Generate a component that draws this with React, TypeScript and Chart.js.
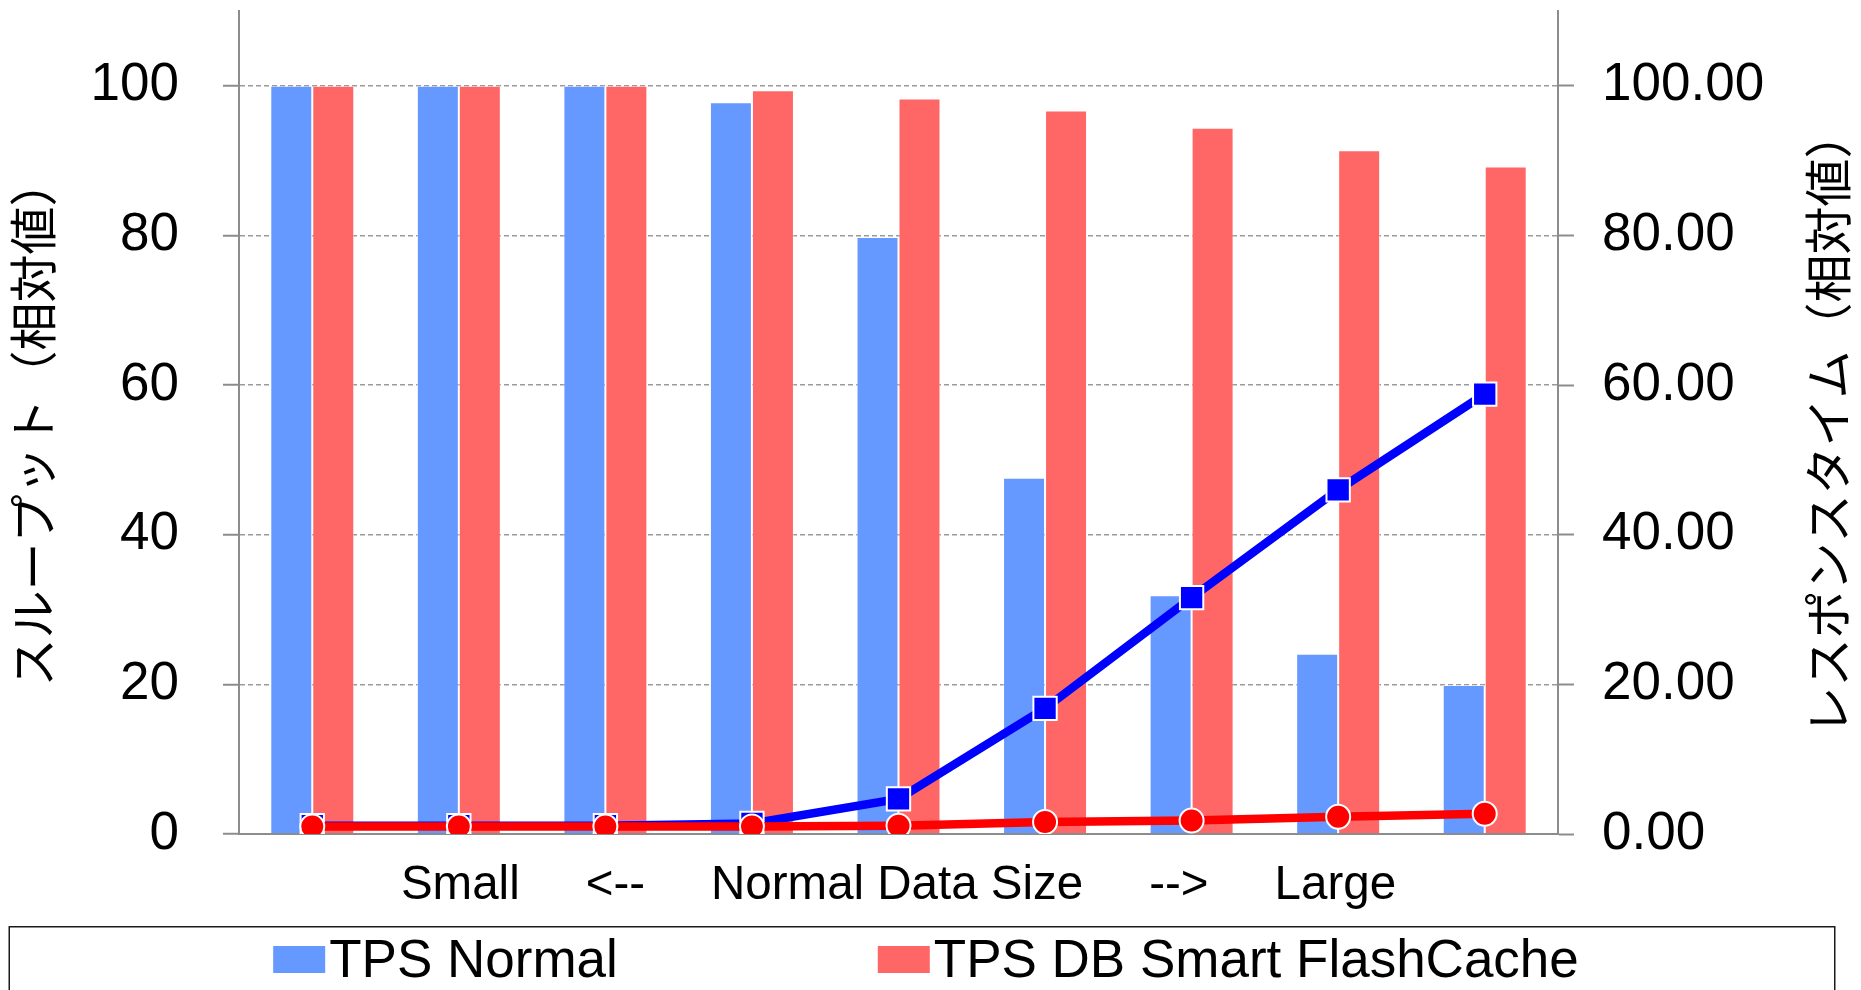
import React, { useEffect, useRef } from 'react';
import { Chart, registerables } from 'chart.js';

Chart.register(...registerables);

// ---- data ----
const categories = ['1', '2', '3', '4', '5', '6', '7', '8', '9'];
const tpsNormal = [100, 100, 100, 97.8, 79.8, 47.6, 31.9, 24.1, 19.9];
const tpsFlashCache = [100, 100, 100, 99.4, 98.3, 96.7, 94.4, 91.4, 89.2];
const respNormal = [1.1, 1.1, 1.1, 1.4, 4.7, 16.8, 31.6, 46.0, 58.8];
const respFlashCache = [1.0, 1.0, 1.0, 1.0, 1.1, 1.6, 1.8, 2.3, 2.7];
const yTicks = [0, 20, 40, 60, 80, 100];
const seriesLabels = ['TPS Normal', 'TPS DB Smart FlashCache', 'Response Normal', 'Response DB Smart FlashCache'];
const xAxisTitle = 'Small     <--     Normal Data Size     -->     Large';
const leftAxisTitle = 'スループット（相対値）';
const rightAxisTitle = 'レスポンスタイム（相対値）';

const FONT = '"Liberation Sans", "Noto Sans CJK JP", Arial, sans-serif';
const GRID = '#9a9a9a';
const AXIS = '#8c8c8c';
const TITLE_SIZE = 48;

const rightTitlePlugin = {
  id: 'rightTitle',
  afterDraw(chart: any) {
    const { ctx, chartArea } = chart;
    ctx.save();
    ctx.translate(chart.width - 28, (chartArea.top + chartArea.bottom) / 2);
    ctx.rotate(-Math.PI / 2);
    ctx.font = `${TITLE_SIZE}px ${FONT}`;
    ctx.fillStyle = '#000';
    ctx.textAlign = 'center';
    ctx.textBaseline = 'middle';
    ctx.fillText(rightAxisTitle, 0, 0);
    ctx.restore();
  },
};

const boxLegendPlugin = {
  id: 'boxLegend',
  afterDraw(chart: any) {
    const { ctx } = chart;
    const items = chart.data.datasets.filter((d: any) => d.type === 'bar');
    ctx.save();
    ctx.lineWidth = 1.5;
    ctx.strokeStyle = '#1a1a1a';
    ctx.strokeRect(9.25, 926.75, 1825.5, 120);
    ctx.font = `53px ${FONT}`;
    const boxW = 52;
    const boxH = 27;
    const gapBoxText = 4;
    const gapItems = 260;
    const widths = items.map((d: any) => boxW + gapBoxText + ctx.measureText(d.label).width);
    const total = widths.reduce((a: number, b: number) => a + b, 0) + gapItems * (items.length - 1);
    let x = 926 - total / 2;
    items.forEach((d: any, i: number) => {
      ctx.fillStyle = d.backgroundColor;
      ctx.fillRect(x, 946, boxW, boxH);
      ctx.fillStyle = '#000';
      ctx.textAlign = 'left';
      ctx.textBaseline = 'alphabetic';
      ctx.fillText(d.label, x + boxW + gapBoxText, 976.5);
      x += widths[i] + gapItems;
    });
    ctx.restore();
  },
};

export default function App() {
  const canvasRef = useRef<HTMLCanvasElement | null>(null);

  useEffect(() => {
    document.body.style.margin = '0';
    document.body.style.overflow = 'hidden';
    const canvas = canvasRef.current;
    if (!canvas) return;

    const fixY = (w: number) => (scale: any) => {
      scale.width = w;
      scale.paddingTop = 0;
      scale.paddingBottom = 0;
      scale.paddingLeft = 0;
      scale.paddingRight = 0;
    };
    const setTicks = (scale: any) => {
      scale.ticks = yTicks.map((v) => ({ value: v }));
    };

    const chart = new Chart(canvas, {
      type: 'bar',
      data: {
        labels: categories,
        datasets: [
          {
            type: 'line',
            label: seriesLabels[3],
            data: respFlashCache,
            yAxisID: 'y1',
            order: 0,
            borderColor: '#ff0000',
            backgroundColor: '#ff0000',
            borderWidth: 8.5,
            tension: 0,
            pointStyle: 'circle',
            pointRadius: 12,
            pointBackgroundColor: '#ff0000',
            pointBorderColor: '#ffffff',
            pointBorderWidth: 2,
          },
          {
            type: 'line',
            label: seriesLabels[2],
            data: respNormal,
            yAxisID: 'y1',
            order: 1,
            borderColor: '#0000ff',
            backgroundColor: '#0000ff',
            borderWidth: 8.5,
            tension: 0,
            pointStyle: 'rect',
            pointRadius: 16.5,
            pointBackgroundColor: '#0000ff',
            pointBorderColor: '#ffffff',
            pointBorderWidth: 2,
          },
          {
            type: 'bar',
            label: seriesLabels[0],
            data: tpsNormal,
            yAxisID: 'y',
            order: 2,
            backgroundColor: '#6699ff',
            borderColor: 'rgba(255,255,255,0.45)',
            borderWidth: 1,
            barPercentage: 1,
            categoryPercentage: 0.573,
          },
          {
            type: 'bar',
            label: seriesLabels[1],
            data: tpsFlashCache,
            yAxisID: 'y',
            order: 3,
            backgroundColor: '#ff6666',
            borderColor: 'rgba(255,255,255,0.45)',
            borderWidth: 1,
            barPercentage: 1,
            categoryPercentage: 0.573,
          },
        ],
      } as any,
      options: {
        animation: false,
        responsive: false,
        maintainAspectRatio: false,
        layout: { autoPadding: false, padding: { top: 11, left: 0, right: 0, bottom: 0 } },
        plugins: {
          legend: { display: false },
          tooltip: { enabled: false },
        },
        scales: {
          x: {
            type: 'category',
            offset: true,
            grid: { display: false },
            ticks: { display: false },
            border: { display: true, color: AXIS, width: 2 },
            title: {
              display: true,
              text: xAxisTitle,
              color: '#000',
              font: { family: FONT, size: 47.5 },
              padding: { top: 0, bottom: 75.5 },
            },
            afterFit: (scale: any) => {
              scale.height = 156;
              scale.paddingLeft = 0;
              scale.paddingRight = 0;
            },
          },
          y: {
            position: 'left',
            min: 0,
            max: 110,
            afterBuildTicks: setTicks,
            afterFit: fixY(239),
            grid: {
              color: GRID,
              lineWidth: 1.5,
              drawTicks: true,
              tickLength: 16,
              tickColor: AXIS,
              tickWidth: 2,
              tickBorderDash: [],
            },
            border: { display: true, color: AXIS, width: 2, dash: [5, 3] },
            ticks: {
              color: '#000',
              padding: 44,
              font: { family: FONT, size: 53 },
              callback: (v: any) => String(v),
            },
            title: {
              display: true,
              text: leftAxisTitle,
              color: '#000',
              font: { family: FONT, size: TITLE_SIZE },
              padding: { top: 9, bottom: 0 },
            },
          },
          y1: {
            position: 'right',
            min: 0,
            max: 110,
            afterBuildTicks: setTicks,
            afterFit: fixY(303),
            grid: {
              drawOnChartArea: false,
              drawTicks: true,
              tickLength: 16,
              color: AXIS,
              tickColor: AXIS,
              tickWidth: 2,
            },
            border: { display: true, color: AXIS, width: 2 },
            ticks: {
              color: '#000',
              padding: 28,
              font: { family: FONT, size: 53 },
              callback: (v: any) => Number(v).toFixed(2),
            },
          },
        },
      } as any,
      plugins: [rightTitlePlugin, boxLegendPlugin],
    });

    return () => chart.destroy();
  }, []);

  return (
    <div style={{ width: 1861, height: 990, background: '#fff' }}>
      <canvas ref={canvasRef} width={1861} height={990} style={{ display: 'block' }} />
    </div>
  );
}
